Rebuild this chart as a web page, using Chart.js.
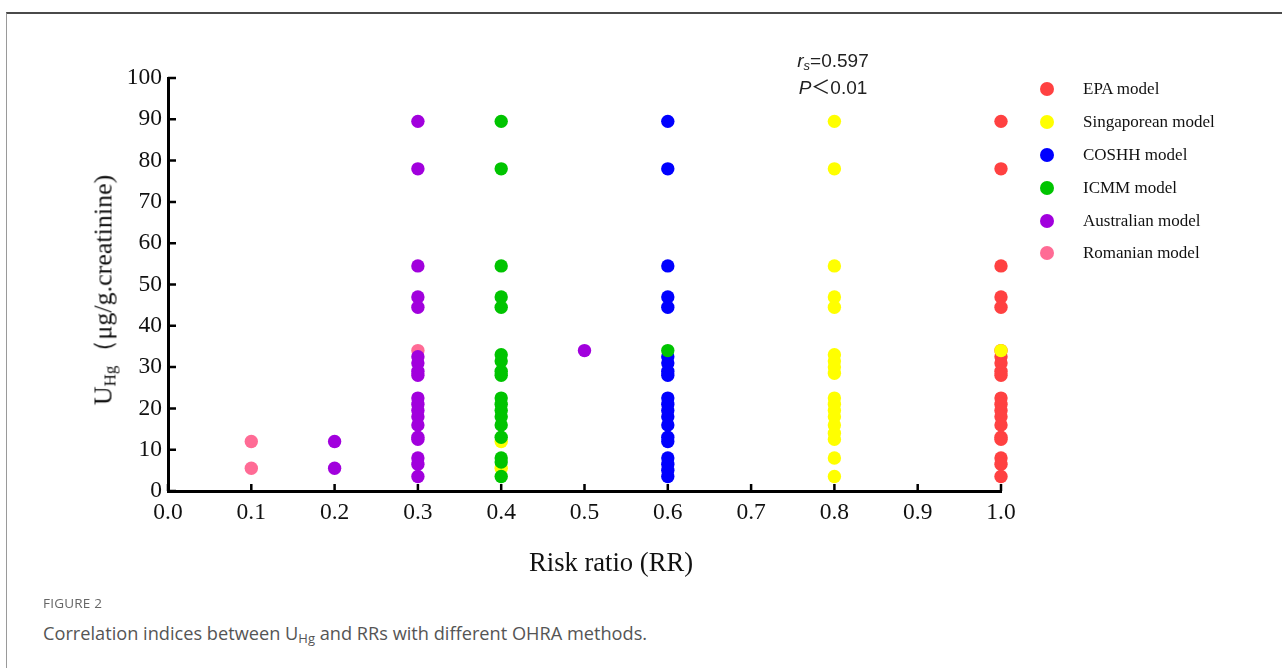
<!DOCTYPE html>
<html>
<head>
<meta charset="utf-8">
<script src="https://cdn.jsdelivr.net/npm/chart.js@4/dist/chart.umd.min.js"></script>
<style>
  html, body { margin: 0; padding: 0; background: #fff; }
  body { width: 1282px; height: 668px; position: relative; overflow: hidden; }
  .frame { position: absolute; left: 6px; top: 12px; width: 1290px; height: 700px;
           border-top: 2px solid #4a4a4a; border-left: 1px solid #9a9a9a; }
  #wrap { position: absolute; left: 0; top: 0; width: 1282px; height: 600px; }
  .serif { font-family: "Liberation Serif", "DejaVu Serif", serif; color: #111; }
  .ytitle { position: absolute; left: 103px; top: 290px; font-size: 26px; white-space: nowrap;
            transform: translate(-50%, -50%) rotate(-90deg); }
  .ytitle sub { font-size: 17px; vertical-align: -4px; }
  .xtitle { position: absolute; left: 611px; top: 562px; font-size: 26.6px; white-space: nowrap;
            transform: translate(-50%, -50%); }
  .note { position: absolute; left: 833px; top: 47px; font-family: "Liberation Sans", Arial, sans-serif;
          font-size: 19px; color: #222; text-align: center; transform: translateX(-50%); }
  .note div { height: 27px; line-height: 27px; white-space: nowrap; overflow: visible; }
  .note sub { font-size: 13px; vertical-align: -3px; line-height: 0; }
  .note .lt { font-family: "Noto Sans CJK SC", sans-serif; line-height: 0; }
  .legend { position: absolute; left: 1040px; top: 73px; }
  .legend .row { height: 32.8px; display: flex; align-items: center; font-size: 17px; }
  .legend .dot { width: 14px; height: 14px; border-radius: 50%; margin-right: 29px; }
  .cap1 { position: absolute; left: 43px; top: 594px; font-family: "Open Sans", "Noto Sans", sans-serif;
          font-size: 13.5px; color: #666; letter-spacing: 0.2px; }
  .cap2 { position: absolute; left: 43px; top: 621px; font-family: "Open Sans", "Noto Sans", sans-serif;
          font-size: 18.2px; color: #555; white-space: nowrap; }
  .cap2 sub { font-size: 13px; vertical-align: -3px; line-height: 0; }
</style>
</head>
<body>
<div class="frame"></div>
<div id="wrap"><canvas id="scatter" width="1282" height="600"></canvas></div>
<div class="ytitle serif">U<sub>Hg</sub>（μg/g.creatinine)</div>
<div class="xtitle serif">Risk ratio (RR)</div>
<div class="note"><div><i>r<sub>s</sub></i>=0.597</div><div><i>P</i><span class="lt">＜</span>0.01</div></div>
<div class="legend serif" id="legend"></div>
<div class="cap1">FIGURE 2</div>
<div class="cap2">Correlation indices between U<sub>Hg</sub> and RRs with different OHRA methods.</div>

<script>
// series names, as in the legend
const seriesNames = ['EPA model', 'Singaporean model', 'COSHH model', 'ICMM model', 'Australian model', 'Romanian model'];
const seriesColors = ['#ff4141', '#ffff00', '#0000ff', '#00c400', '#a100dd', '#ff6b95'];

// x = risk ratio (RR), y = U_Hg (ug/g creatinine)
const epaRR = [1.0, 1.0, 1.0, 1.0, 1.0, 1.0, 1.0, 1.0, 1.0, 1.0, 1.0, 1.0, 1.0, 1.0, 1.0, 1.0, 1.0, 1.0, 1.0, 1.0];
const epaUHg = [89.5, 78, 54.5, 47, 44.5, 34, 32.5, 31, 29, 28, 22.5, 21, 19.5, 18, 16, 13, 12.5, 8, 6.5, 3.5];

const singRR = [0.8, 0.8, 0.8, 0.8, 0.8, 0.8, 0.8, 0.8, 0.8, 0.8, 0.8, 0.8, 0.8, 0.8, 0.8, 0.8, 0.8, 0.8, 1.0, 0.4, 0.4];
const singUHg = [89.5, 78, 54.5, 47, 44.5, 33, 31.5, 30, 28.5, 22.5, 21, 19.5, 18, 16, 14, 12.5, 8, 3.5, 34, 12, 5.5];

const coshhRR = [0.6, 0.6, 0.6, 0.6, 0.6, 0.6, 0.6, 0.6, 0.6, 0.6, 0.6, 0.6, 0.6, 0.6, 0.6, 0.6, 0.6, 0.6, 0.6, 0.6];
const coshhUHg = [89.5, 78, 54.5, 47, 44.5, 32.5, 31, 29, 28, 22.5, 21, 19.5, 18, 16, 13, 12, 8, 6.5, 5, 3.5];

const icmmRR = [0.4, 0.4, 0.4, 0.4, 0.4, 0.4, 0.4, 0.4, 0.4, 0.4, 0.4, 0.4, 0.4, 0.4, 0.4, 0.4, 0.4, 0.4, 0.6];
const icmmUHg = [89.5, 78, 54.5, 47, 44.5, 33, 31.5, 29, 28, 22.5, 21, 19.5, 18, 16, 13, 8, 7, 3.5, 34];

const ausRR = [0.3, 0.3, 0.3, 0.3, 0.3, 0.3, 0.3, 0.3, 0.3, 0.3, 0.3, 0.3, 0.3, 0.3, 0.3, 0.3, 0.3, 0.3, 0.3, 0.2, 0.2, 0.5];
const ausUHg = [89.5, 78, 54.5, 47, 44.5, 32.5, 31, 29, 28, 22.5, 21, 19.5, 18, 16, 13, 12.5, 8, 6.5, 3.5, 12, 5.5, 34];

const romRR = [0.1, 0.1, 0.3];
const romUHg = [12, 5.5, 34];

// which series sits on top where points overlap (lower = on top)
const drawOrder = [3, 2, 2, 1, 1, 2];

const xTicks = [0, 0.1, 0.2, 0.3, 0.4, 0.5, 0.6, 0.7, 0.8, 0.9, 1.0];
const yTicks = [0, 10, 20, 30, 40, 50, 60, 70, 80, 90, 100];

const allX = [epaRR, singRR, coshhRR, icmmRR, ausRR, romRR];
const allY = [epaUHg, singUHg, coshhUHg, icmmUHg, ausUHg, romUHg];

const datasets = seriesNames.map((name, i) => ({
    label: name,
    data: allX[i].map((x, j) => ({ x: x, y: allY[i][j] })),
    backgroundColor: seriesColors[i],
    borderWidth: 0,
    pointRadius: 6.7,
    pointHoverRadius: 6.7,
    order: drawOrder[i],
    clip: false
}));

// legend in html
const legendEl = document.getElementById('legend');
seriesNames.forEach((name, i) => {
    const row = document.createElement('div');
    row.className = 'row';
    row.innerHTML = '<span class="dot" style="background:' + seriesColors[i] + '"></span>' + name;
    legendEl.appendChild(row);
});

// tick marks pointing into the plot
const inwardTicks = {
    id: 'inwardTicks',
    beforeDatasetsDraw(chart) {
        const ctx = chart.ctx;
        const xs = chart.scales.x, ys = chart.scales.y;
        ctx.save();
        ctx.strokeStyle = '#000';
        ctx.lineWidth = 2.5;
        ctx.beginPath();
        yTicks.forEach(v => {
            const py = ys.getPixelForValue(v);
            ctx.moveTo(xs.left, py);
            ctx.lineTo(xs.left + 8, py);
        });
        xTicks.forEach(v => {
            const px = xs.getPixelForValue(v);
            ctx.moveTo(px, ys.bottom);
            ctx.lineTo(px, ys.bottom - 7);
        });
        ctx.stroke();
        ctx.restore();
    }
};

const serifFont = { family: '"Liberation Serif", "DejaVu Serif", serif', size: 23.5 };

new Chart(document.getElementById('scatter'), {
    type: 'scatter',
    data: { datasets: datasets },
    options: {
        responsive: false,
        animation: false,
        events: [],
        layout: { padding: { left: 0, top: 78, right: 281, bottom: 69 } },
        plugins: {
            legend: { display: false },
            tooltip: { enabled: false }
        },
        scales: {
            x: {
                type: 'linear',
                min: 0,
                max: 1,
                afterFit: s => { s.height = 40; },
                afterBuildTicks: s => { s.ticks = xTicks.map(v => ({ value: v })); },
                grid: { display: true, drawOnChartArea: false, drawTicks: false },
                border: { display: true, color: '#000', width: 3 },
                ticks: { color: '#111', font: serifFont, padding: 8, maxRotation: 0,
                         callback: v => v.toFixed(1) }
            },
            y: {
                type: 'linear',
                min: 0,
                max: 100,
                afterFit: s => { s.width = 168; },
                afterBuildTicks: s => { s.ticks = yTicks.map(v => ({ value: v })); },
                grid: { display: true, drawOnChartArea: false, drawTicks: false },
                border: { display: true, color: '#000', width: 3 },
                ticks: { color: '#111', font: serifFont, padding: 6 }
            }
        }
    },
    plugins: [inwardTicks]
});
</script>
</body>
</html>
